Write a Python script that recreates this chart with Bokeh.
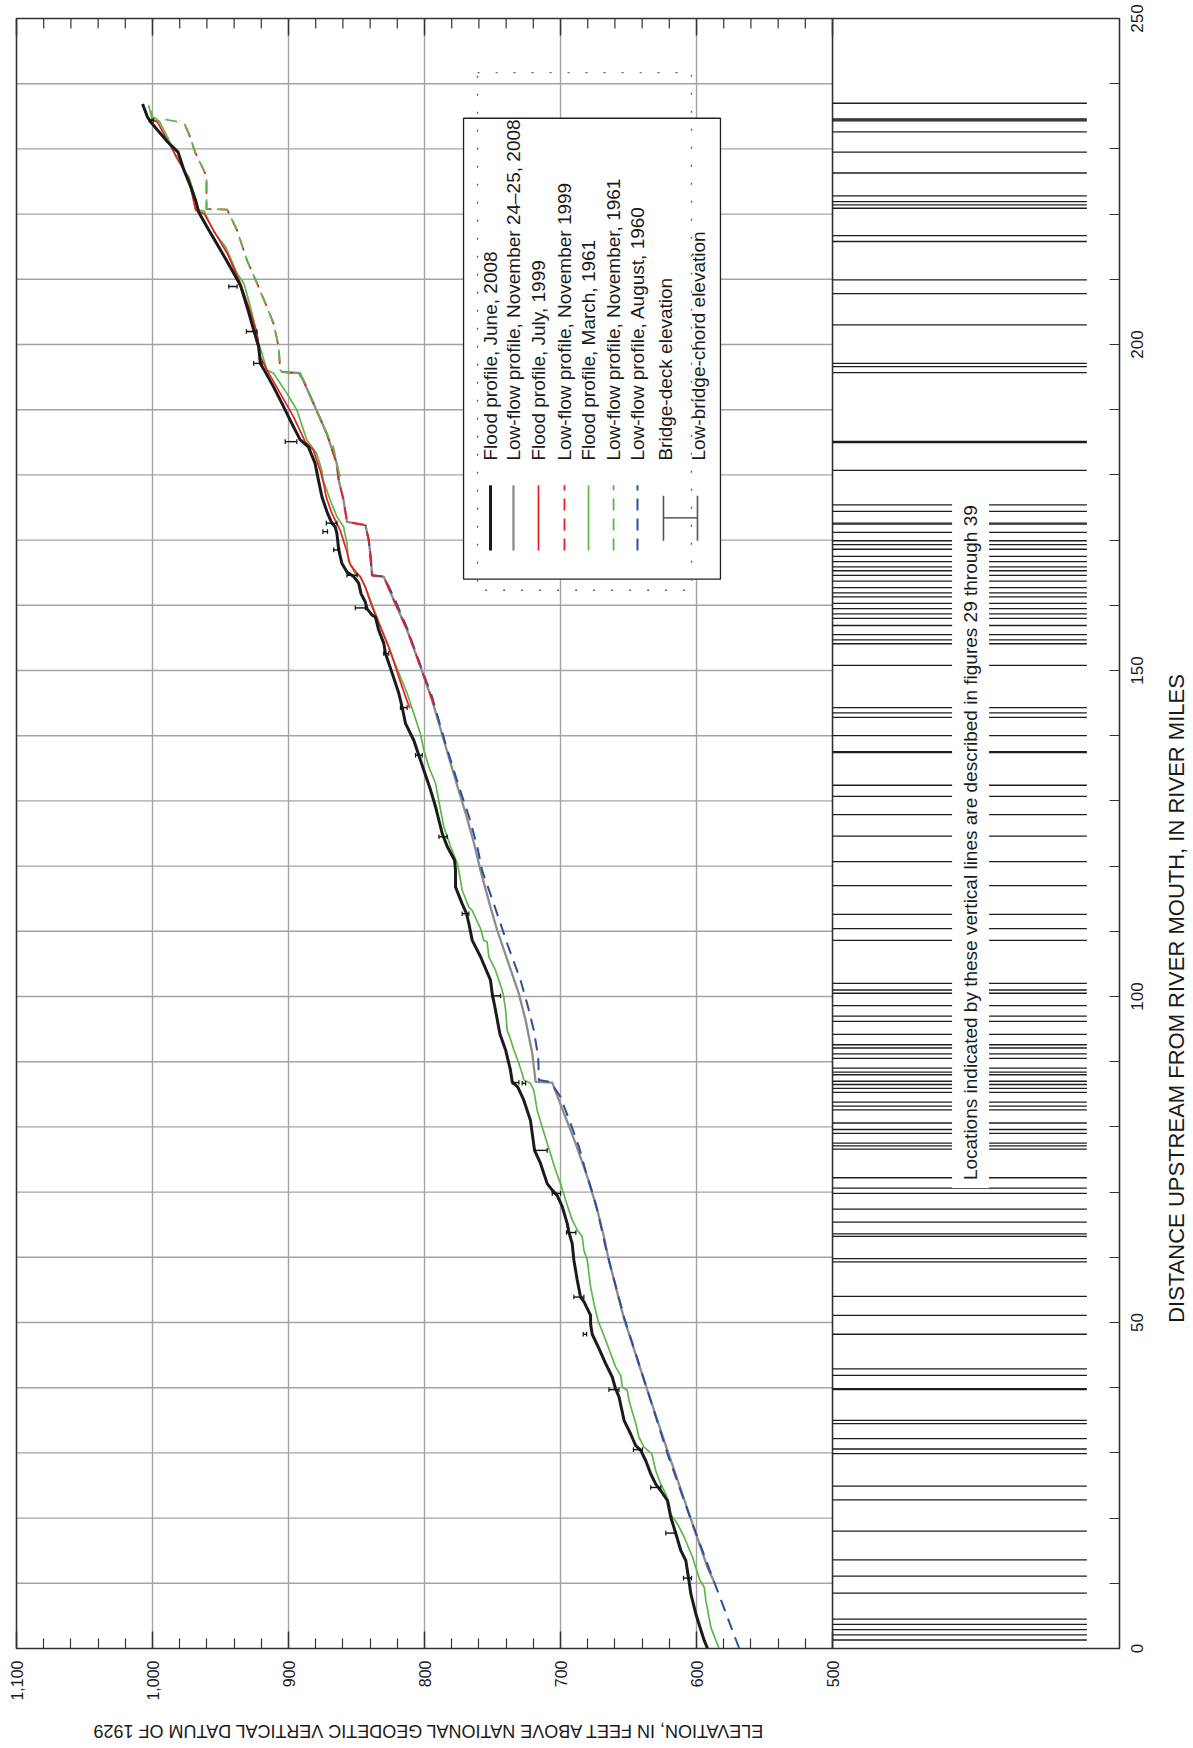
import math
from bokeh.plotting import figure
from bokeh.models import (Range1d, LinearAxis, FixedTicker, Label, NumeralTickFormatter)
from bokeh.core.properties import value
from bokeh.embed import file_html
from bokeh.resources import INLINE

FONT = "Liberation Sans"

# ---- water-surface profiles: river mile upstream from mouth, elevation (ft NGVD 29)
flood_2008_mi = [0, 1.2, 5.3, 8.4, 10.9, 13.5, 15.0, 17.6, 20.1, 22.7,
                 24.2, 25.2, 26.8, 28.8, 30.4, 31.1, 32.9, 35.0, 38.6, 39.8,
                 41.6, 43.7, 46.0, 48.2, 49.8, 51.1, 53.2, 53.9, 56.5, 59.6,
                 62.1, 63.9, 65.2, 67.8, 69.5, 70.3, 71.3, 74.4, 76.4, 79.0,
                 81.0, 84.1, 86.1, 86.9, 88.7, 91.8, 94.3, 97.9, 100.4, 102.5,
                 106.1, 108.6, 111.2, 112.7, 114.2, 116.8, 119.3, 120.9, 123.0, 125.0,
                 129.1, 131.7, 134.7, 137.0, 139.3, 141.9, 144.4, 146.5, 149.6, 152.6,
                 154.2, 156.2, 158.2, 158.5, 159.5, 160.5, 161.8, 163.4, 164.4, 165.1,
                 166.4, 168.5, 171.0, 172.0, 172.6, 174.1, 176.6, 179.2, 181.8, 184.3,
                 185.4, 187.9, 191.0, 193.5, 195.8, 197.1, 199.7, 202.2, 205.8, 209.1,
                 211.4, 214.5, 218.0, 220.3, 222.1, 224.2, 226.7, 229.5, 231.1, 232.6,
                 234.1, 234.9, 236.9]
flood_2008_el = [591.9, 594.3, 600.5, 604.2, 605.9, 607.9, 611.5, 615.2, 618.9, 621.4,
                 626.3, 630.0, 633.7, 637.3, 641.0, 644.7, 648.4, 653.3, 657.0, 659.5,
                 661.9, 666.8, 671.7, 676.7, 677.9, 677.9, 682.8, 685.3, 687.7, 690.2,
                 691.4, 693.9, 695.1, 698.8, 702.5, 706.1, 709.8, 714.7, 719.1, 720.8,
                 722.1, 727.0, 731.4, 735.5, 736.8, 740.4, 744.6, 747.8, 750.2, 751.5,
                 758.8, 764.9, 767.4, 769.1, 772.3, 777.2, 777.2, 777.9, 783.3, 787.0,
                 791.9, 795.6, 800.5, 804.2, 807.9, 814.0, 816.5, 818.9, 823.8, 828.7,
                 830.0, 833.7, 836.1, 838.6, 842.3, 843.5, 846.7, 848.4, 852.1, 857.0,
                 860.7, 863.1, 864.4, 865.6, 868.1, 871.3, 875.4, 878.0, 880.5, 885.4,
                 891.5, 897.6, 904.9, 911.0, 917.1, 920.7, 922.0, 925.6, 930.5, 935.4,
                 941.5, 950.0, 959.8, 966.0, 968.3, 971.9, 976.8, 981.2, 989.0, 995.1,
                 1001.2, 1003.7, 1007.3]

lowflow_2008_mi = [10.2, 12.4, 19.9, 30.4, 39.6, 50.6, 60.0, 63.2, 67.3, 72.4,
                   77.5, 82.1, 86.8, 86.9, 91.3, 96.4, 100.4, 110.2, 113.7, 119.3,
                   123.5, 128.1, 133.2, 139.3, 145.5, 150.6, 156.2, 160.8, 164.4, 164.6,
                   166.9, 170.0, 172.3, 172.8, 176.1, 179.2, 181.8, 186.4, 191.0, 195.6,
                   195.8]
lowflow_2008_el = [587.0, 591.9, 604.2, 621.4, 636.1, 653.3, 665.0, 668.1, 673.0, 680.4,
                   689.0, 697.5, 706.1, 718.3, 720.8, 725.7, 730.6, 746.6, 751.5, 758.8,
                   763.6, 769.8, 777.2, 785.8, 794.5, 803.0, 812.8, 822.6, 830.0, 838.6,
                   839.3, 841.0, 843.5, 857.0, 859.5, 863.1, 864.6, 872.0, 881.7, 891.5,
                   904.9]

flood_1999_mi = [144.2, 146.0, 147.5, 150.6, 153.6, 156.7, 159.8, 162.8, 164.4, 164.9,
                 166.2, 169.0, 171.5, 174.1, 176.6, 178.5, 180.2, 183.8, 185.1, 188.9,
                 192.5, 196.1, 198.1, 201.7, 205.8, 209.4, 214.0, 217.0, 220.1, 220.6,
                 225.2, 227.7, 230.8, 234.1, 234.6]
flood_1999_el = [810.8, 814.0, 816.5, 821.4, 826.3, 832.4, 838.6, 843.5, 847.2, 849.6,
                 854.5, 858.2, 862.0, 868.1, 872.3, 874.0, 876.0, 881.7, 887.8, 896.3,
                 906.1, 915.9, 920.7, 923.2, 929.3, 935.4, 945.1, 953.7, 962.2, 968.3,
                 973.2, 979.3, 987.8, 996.3, 1001.2]

lowflow_1999_mi = [145.0, 150.6, 156.2, 160.8, 164.4, 164.6, 166.9, 170.0, 172.3, 172.8,
                   176.1, 179.2, 181.8, 186.4, 191.0, 194.5, 195.6, 195.8, 196.1, 199.7,
                   203.2, 205.8, 209.4, 212.9, 217.5, 220.7, 220.8, 225.7, 226.7, 229.3,
                   232.3, 234.0, 234.3]
lowflow_1999_el = [793.5, 803.0, 812.8, 822.6, 830.0, 838.6, 839.3, 841.0, 843.5, 857.0,
                   859.5, 863.1, 864.6, 872.0, 881.7, 889.0, 892.7, 904.9, 906.1, 907.3,
                   911.0, 915.9, 923.2, 930.5, 937.8, 945.1, 960.3, 960.3, 962.2, 968.3,
                   973.2, 976.8, 980.0]

flood_1961_mi = [0, 1.2, 3.2, 7.3, 9.4, 10.4, 12.4, 14.0, 17.1, 19.1,
                 20.6, 22.2, 23.7, 25.2, 27.3, 29.9, 30.9, 32.4, 34.5, 38.0,
                 39.6, 40.1, 41.9, 43.2, 45.2, 47.3, 49.3, 50.1, 52.9, 55.5,
                 59.6, 61.1, 63.2, 64.2, 65.7, 68.8, 71.3, 73.4, 75.9, 77.5,
                 80.0, 82.6, 85.6, 86.7, 87.2, 88.2, 89.7, 91.8, 93.8, 94.8,
                 97.9, 99.9, 101.0, 104.0, 106.1, 108.4, 108.6, 110.4, 113.2, 113.7,
                 116.3, 119.3, 120.4, 123.0, 126.0, 128.6, 132.7, 135.2, 137.8, 140.3,
                 143.4, 146.5, 149.0, 151.6, 154.2, 156.7, 158.8, 160.8, 162.8, 164.4,
                 164.8, 165.9, 166.7, 169.5, 172.0, 173.6, 176.1, 179.2, 180.8, 183.3,
                 185.4, 190.0, 192.5, 195.6, 196.1, 198.6, 200.2, 202.7, 206.8, 209.4,
                 210.9, 215.0, 217.3, 220.5, 220.6, 222.4, 225.7, 226.7, 228.8, 231.8,
                 234.3, 234.4, 236.7]
flood_1961_el = [583.3, 585.7, 589.4, 593.1, 594.3, 597.3, 600.5, 602.9, 609.1, 614.0,
                 618.9, 620.1, 622.6, 626.3, 630.0, 632.9, 638.6, 642.3, 644.7, 649.6,
                 650.9, 654.5, 655.8, 659.5, 663.1, 666.8, 670.5, 672.2, 675.4, 677.9,
                 680.3, 682.8, 684.1, 687.7, 691.4, 696.3, 700.0, 703.7, 707.4, 709.8,
                 713.5, 717.2, 719.6, 722.1, 727.0, 728.2, 730.6, 734.3, 737.3, 739.2,
                 740.4, 741.7, 742.9, 747.8, 752.7, 754.0, 756.4, 758.8, 765.0, 767.4,
                 772.3, 774.8, 775.9, 780.8, 785.8, 788.2, 791.9, 796.8, 800.5, 803.0,
                 807.9, 812.8, 817.7, 822.6, 827.5, 832.4, 836.1, 839.8, 843.5, 847.2,
                 850.9, 853.3, 855.8, 857.0, 859.5, 864.4, 869.3, 874.5, 875.6, 879.3,
                 886.6, 893.9, 901.2, 911.0, 915.9, 919.5, 922.0, 924.4, 929.3, 932.9,
                 937.8, 946.3, 954.9, 962.2, 967.1, 968.3, 973.2, 976.8, 982.9, 989.0,
                 995.1, 1000.0, 1002.9]

lowflow_1961_mi = [179.7, 184.3, 186.9, 191.0, 194.5, 195.6, 195.8, 196.1, 199.7, 203.2,
                   205.8, 209.4, 212.9, 217.5, 220.7, 220.8, 225.7, 226.7, 229.3, 232.3,
                   234.0, 234.5, 234.4, 234.9, 236.7]
lowflow_1961_el = [862.2, 867.1, 873.2, 881.7, 889.0, 892.7, 904.9, 906.1, 907.3, 911.0,
                   915.9, 923.2, 930.5, 937.8, 945.1, 960.3, 960.3, 962.2, 968.3, 973.2,
                   976.8, 990.2, 995.1, 1000.0, 1002.4]

lowflow_1960_mi = [0, 10.2, 19.1, 29.9, 39.6, 50.8, 60.0, 61.6, 66.2, 69.3,
                   72.4, 77.0, 80.5, 84.6, 86.9, 87.2, 90.7, 94.8, 98.9, 102.5,
                   108.1, 114.2, 119.3, 123.0, 127.6, 132.2, 138.8, 146.0, 150.8, 156.5,
                   161.3, 164.4, 164.6, 170.0, 172.3]
lowflow_1960_el = [568.6, 587.0, 603.0, 621.4, 636.1, 653.3, 665.0, 666.9, 671.8, 675.5,
                   680.4, 686.5, 692.6, 700.0, 707.4, 715.9, 716.4, 719.6, 724.5, 729.4,
                   739.2, 749.0, 757.6, 761.2, 767.3, 774.7, 784.6, 794.5, 803.0, 812.8,
                   822.6, 830.0, 838.6, 841.0, 843.5]

# ---- bridges: river mile, bridge-deck elevation, low-bridge-chord elevation
bridge_mi = [10.8, 17.7, 24.7, 30.5, 39.7, 48.2, 53.9, 63.8, 69.8, 76.4,
             86.7, 86.8, 100.1, 112.7, 124.5, 137.0, 144.3, 152.6, 159.6, 164.6,
             168.5, 171.3, 172.6, 185.1, 197.1, 202.0, 208.9, 234.4]
bridge_deck = [609.6, 622.6, 633.7, 646.4, 664.4, 683.3, 690.2, 695.6, 706.1, 719.1,
               728.2, 735.5, 750.2, 772.3, 789.4, 806.6, 817.7, 830.0, 850.9, 857.0,
               866.8, 874.7, 872.2, 902.4, 925.6, 931.0, 943.9, 1002.4]
bridge_chord = [603.7, 615.2, 626.3, 639.8, 657.0, 680.8, 682.8, 688.7, 700.0, 709.8,
                725.7, 730.6, 744.1, 767.4, 783.3, 801.7, 812.8, 826.3, 843.5, 849.6,
                862.4, 871.3, 864.4, 893.9, 919.5, 923.2, 937.8, 999.3]

# ---- river miles of the described locations
location_mi = [237.0, 234.6, 234.45, 234.3, 232.6, 229.5, 226.3, 222.8, 221.9, 221.4,
               220.9, 216.7, 215.8, 209.9, 207.8, 203.0, 197.1, 196.6, 195.7, 185.15,
               184.95, 180.7, 175.4, 174.4, 172.6, 172.45, 171.2, 169.9, 169.3, 168.6,
               167.5, 166.7, 165.9, 165.3, 164.6, 163.7, 162.7, 161.9, 161.3, 160.3,
               159.5, 158.7, 158.0, 156.9, 155.5, 154.7, 154.1, 150.8, 144.3, 143.5,
               142.8, 140.0, 137.55, 137.4, 132.4, 130.7, 127.9, 124.6, 120.7, 117.0,
               112.6, 110.4, 108.6, 102.0, 101.0, 100.5, 98.6, 97.0, 96.2, 94.2,
               92.6, 92.1, 91.2, 90.5, 89.0, 88.4, 88.0, 87.0, 86.5, 85.9,
               85.3, 83.8, 83.2, 82.6, 80.6, 79.6, 79.0, 77.5, 77.1, 76.6,
               72.2, 70.6, 69.8, 67.4, 65.4, 63.6, 63.2, 59.8, 59.3, 54.0,
               51.1, 48.2, 42.9, 41.9, 39.85, 39.7, 35.0, 34.5, 32.2, 30.6,
               29.9, 24.9, 22.8, 18.0, 13.6, 11.1, 8.5, 4.5, 3.7, 2.9,
               2.1, 1.3]

legend_labels = ["Flood profile, June, 2008",
                 "Low-flow profile, November 24\u201325, 2008",
                 "Flood profile, July, 1999",
                 "Low-flow profile, November 1999",
                 "Flood profile, March, 1961",
                 "Low-flow profile, November, 1961",
                 "Low-flow profile, August, 1960",
                 "Bridge-deck elevation",
                 "Low-bridge-chord elevation"]

elev_major = [500, 600, 700, 800, 900, 1000, 1100]
elev_minor = [e for e in range(520, 1100, 20) if e % 100]
elev_grid = [600, 700, 800, 900, 1000]
mile_major = [0, 50, 100, 150, 200, 250]
mile_minor = [m for m in range(10, 250, 10) if m % 50]
mile_grid = list(range(10, 250, 10))

# line styles: colour, width, dash (same order as legend_labels)
styles = [
    ("#1b1b1b", 3.0, "solid"),
    ("#8c8c8c", 2.3, "solid"),
    ("#ec1c24", 1.7, "solid"),
    ("#ec1c24", 1.8, "12 8"),
    ("#5cb947", 1.7, "solid"),
    ("#5cb947", 1.8, "12 8"),
    ("#2e4f9f", 2.0, "12 8"),
]

AXIS_COLOR = "#333333"
GRID_COLOR = "#a3a3a3"
TEXT_COLOR = "#1a1a1a"

# page geometry: the chart box sits inside the canvas with room for the scales
W, H = 1193, 1748
BOX_L, BOX_R, BOX_T, BOX_B = 16, 1119, 18, 1648        # pixel edges of the chart box
ELEV_HI, ELEV_LO, STRIP_END, BAR_END = 1100, 500, 289, 313
PX_PER_FT = (BOX_R - BOX_L) / (ELEV_HI - STRIP_END)
PX_PER_MILE = (BOX_B - BOX_T) / 250.0


def x_at(px):
    # elevation value at a horizontal pixel position of the canvas
    return ELEV_HI - (px - BOX_L) / PX_PER_FT


def y_at(py):
    # river-mile value at a vertical pixel position of the canvas
    return (BOX_B - py) / PX_PER_MILE


p = figure(width=W, height=H, output_backend="svg", toolbar_location=None,
           x_range=Range1d(x_at(0), x_at(W)), y_range=Range1d(y_at(H), y_at(0)),
           x_axis_location=None, y_axis_location=None,
           min_border_left=0, min_border_right=0, min_border_top=0, min_border_bottom=0,
           background_fill_color="white", border_fill_color="white")
p.outline_line_color = None
for g in list(p.xgrid) + list(p.ygrid):
    g.visible = False

# grid over the elevation scale
p.segment(x0=elev_grid, y0=0, x1=elev_grid, y1=250, line_color=GRID_COLOR, line_width=1.4)
p.segment(x0=ELEV_HI, y0=mile_grid, x1=ELEV_LO, y1=mile_grid, line_color=GRID_COLOR,
          line_width=1.4)

# chart box and the divider between the elevation scale and the location strip
p.quad(left=[ELEV_HI], right=[STRIP_END], bottom=[0], top=[250], fill_color=None,
       line_color=AXIS_COLOR, line_width=1.6)
p.segment(x0=[ELEV_LO], y0=[0], x1=[ELEV_LO], y1=[250], line_color=AXIS_COLOR,
          line_width=1.6)

axis_style = dict(axis_line_color=AXIS_COLOR, major_tick_line_color=AXIS_COLOR,
                  minor_tick_line_color=AXIS_COLOR, major_tick_out=0, minor_tick_out=0,
                  major_label_text_font=FONT)

# elevation scale along the bottom of the box
bottom = LinearAxis(fixed_location=0, bounds=(ELEV_LO, ELEV_HI),
                    ticker=FixedTicker(ticks=elev_major, minor_ticks=elev_minor),
                    formatter=NumeralTickFormatter(format="0,0"),
                    major_label_orientation=math.pi / 2, major_tick_in=17, minor_tick_in=10,
                    major_tick_line_width=1.5, minor_tick_line_width=1.2,
                    major_label_standoff=12, major_label_text_font_size="16px",
                    major_label_text_color=TEXT_COLOR, **axis_style)
p.add_layout(bottom, "below")

# river-mile scale along the right side of the box; its numbers are set
# centred on the ticks below
right = LinearAxis(fixed_location=STRIP_END, bounds=(0, 250),
                   ticker=FixedTicker(ticks=mile_major, minor_ticks=mile_minor),
                   major_tick_in=10, minor_tick_in=10,
                   major_tick_line_width=1.2, minor_tick_line_width=1.2,
                   major_label_text_color=None, **axis_style)
p.add_layout(right, "right")
p.text(x=[x_at(1136)] * len(mile_major), y=mile_major, text=[str(m) for m in mile_major],
       angle=math.pi / 2, text_align="center", text_baseline="middle",
       text_font=value(FONT), text_font_size="17px", text_color=TEXT_COLOR)

# tick marks along the top edge of the elevation scale
major_len = 17 / PX_PER_MILE
minor_len = 10 / PX_PER_MILE
p.segment(x0=elev_major, y0=250, x1=elev_major, y1=250 - major_len,
          line_color=AXIS_COLOR, line_width=1.5)
p.segment(x0=elev_minor, y0=250, x1=elev_minor, y1=250 - minor_len,
          line_color=AXIS_COLOR, line_width=1.2)

# axis titles
p.add_layout(Label(x=(ELEV_HI + ELEV_LO) / 2, y=y_at(1730),
                   text="ELEVATION, IN FEET ABOVE NATIONAL GEODETIC VERTICAL DATUM  OF 1929",
                   angle=math.pi, text_align="center", text_baseline="middle",
                   text_font=FONT, text_font_size="18px", text_color=TEXT_COLOR))
p.add_layout(Label(x=x_at(1176), y=y_at(998),
                   text="DISTANCE UPSTREAM FROM RIVER MOUTH, IN RIVER MILES",
                   angle=math.pi / 2, text_align="center", text_baseline="middle",
                   text_font=FONT, text_font_size="22px", text_color=TEXT_COLOR))

# location strip
p.segment(x0=ELEV_LO, y0=location_mi, x1=BAR_END, y1=location_mi, line_color="#1e1e1e",
          line_width=1.3)

# profiles, drawn back to front
series = [
    (lowflow_2008_mi, lowflow_2008_el, styles[1]),
    (lowflow_1960_mi, lowflow_1960_el, styles[6]),
    (lowflow_1999_mi, lowflow_1999_el, styles[3]),
    (lowflow_1961_mi, lowflow_1961_el, styles[5]),
    (flood_1961_mi, flood_1961_el, styles[4]),
    (flood_1999_mi, flood_1999_el, styles[2]),
    (flood_2008_mi, flood_2008_el, styles[0]),
]
for mi, el, (col, w, dash) in series:
    p.line(x=el, y=mi, line_color=col, line_width=w, line_dash=dash, line_join="round")

# bridges: span from deck to low chord, with end caps
cap = 2.3 / PX_PER_MILE
p.segment(x0=bridge_deck, y0=bridge_mi, x1=bridge_chord, y1=bridge_mi,
          line_color="#111111", line_width=1.4)
p.segment(x0=bridge_deck, y0=[m - cap for m in bridge_mi], x1=bridge_deck,
          y1=[m + cap for m in bridge_mi], line_color="#111111", line_width=1.2)
p.segment(x0=bridge_chord, y0=[m - cap for m in bridge_mi], x1=bridge_chord,
          y1=[m + cap for m in bridge_mi], line_color="#111111", line_width=1.2)

# legend box
p.quad(left=[771.3], right=[582.4], bottom=[164.0], top=[234.7], fill_color="white",
       line_color="#222222", line_width=1.3)
key_x = [751.5, 734.6, 716.2, 697.1, 679.4, 661.0, 643.4]
for kx, (col, w, dash) in zip(key_x, styles):
    p.line(x=[kx, kx], y=[168.4, 178.4], line_color=col, line_width=w, line_dash=dash)
p.segment(x0=[624.3], y0=[173.4], x1=[599.3], y1=[173.4], line_color="#333333",
          line_width=1.3)
p.segment(x0=[624.3, 599.3], y0=[169.9, 169.9], x1=[624.3, 599.3], y1=[176.8, 176.8],
          line_color="#555555", line_width=1.6)
text_x = key_x + [622.8, 598.5]
p.text(x=text_x, y=[182.2] * len(text_x), text=legend_labels, angle=math.pi / 2,
       text_align="left", text_baseline="middle", text_font=value(FONT),
       text_font_size="19px", text_color=TEXT_COLOR)
# dotted registration frame around the legend
p.line(x=[761.0, 603.7, 603.7, 761.0, 761.0], y=[241.7, 241.7, 162.3, 162.3, 241.7],
       line_color="#666666", line_width=1.4, line_dash="2 16")

# note in the location strip
p.add_layout(Label(x=398.5, y=123.6,
                   text="Locations indicated by these vertical lines are described in figures 29 through 39",
                   angle=math.pi / 2, text_align="center", text_baseline="middle",
                   text_font=FONT, text_font_size="19px", text_color=TEXT_COLOR,
                   background_fill_color="white", padding=8))

open("out.html", "w").write(file_html(p, INLINE))
